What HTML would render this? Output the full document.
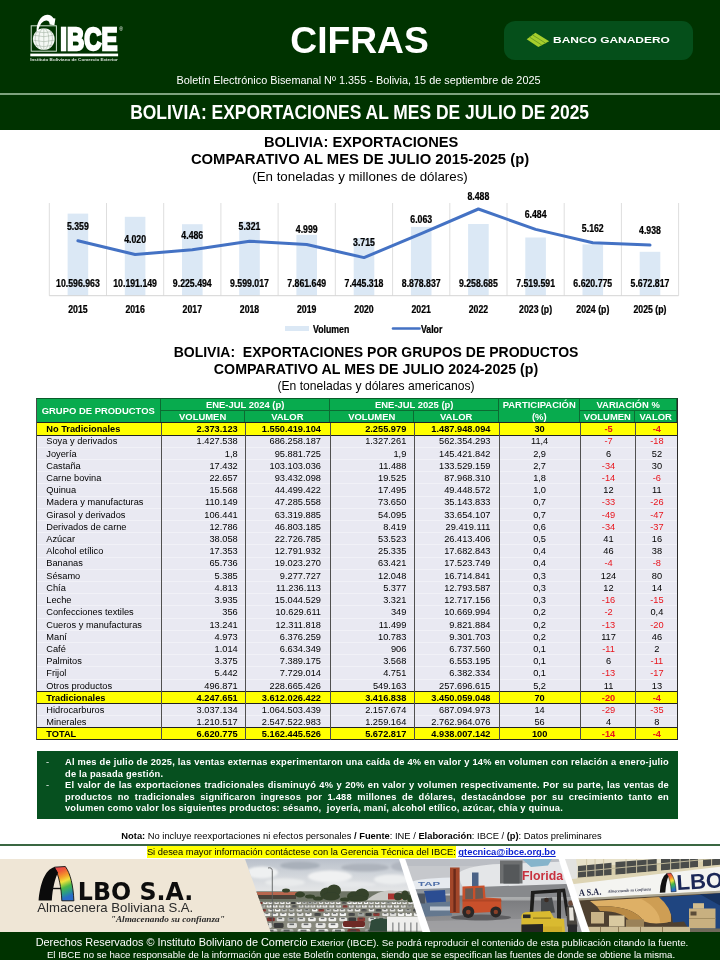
<!DOCTYPE html><html lang="es"><head><meta charset="utf-8"><title>CIFRAS - IBCE</title><style>
*{margin:0;padding:0;box-sizing:border-box}
html,body{width:720px;height:960px;overflow:hidden;background:#fff}
body{position:relative;font-family:"Liberation Sans",sans-serif;color:#000}
.abs{position:absolute}
.ctr{position:absolute;left:0;width:720px;text-align:center;white-space:nowrap}
.ctr>span{display:inline-block;transform-origin:50% 50%}
#hdr{position:absolute;left:0;top:0;width:720px;height:130px;background:#003300}
#hline{position:absolute;left:0;top:93.2px;width:720px;height:2px;background:#7ea37e}
.t1{font-weight:bold;font-size:14.8px;line-height:17px}
.t2{font-size:13.33px;line-height:16px}
#tbl{position:absolute;left:36px;top:397.8px;width:642px;height:342.7px;background:#e9e9f2;border:1px solid #2a2a2a;border-top-color:#0a5c2a;border-left-color:#4a4a4a}
.c{position:absolute;white-space:nowrap;font-size:9.25px;line-height:12.2px;height:12.2px}
.hd{position:absolute;background:#08ab4e;color:#fff;font-weight:bold;font-size:9.45px;text-align:center;white-space:nowrap;border-right:1px solid #0c6b32;border-bottom:1px solid #0c6b32}
.yl{position:absolute;left:0;width:640px;height:12.2px;background:#ffff00;border-top:1px solid #222;border-bottom:1px solid #222}
.vl{position:absolute;top:24px;width:1px;height:317px;background:#505050}
.neg{color:#e8141c}
.b{font-weight:bold}
#box{position:absolute;left:37px;top:750.7px;width:641px;height:68.2px;background:#06501f}
.bl{position:absolute;left:28px;width:604px;color:#fff;font-weight:bold;font-size:9.3px;line-height:11.7px;height:11.7px;white-space:nowrap;text-align:justify;text-align-last:justify;letter-spacing:0.2px}
.bl.last{text-align-last:left}
.dash{position:absolute;left:9px;color:#fff;font-size:9.3px;line-height:11.7px}
#ftr{position:absolute;left:0;top:932px;width:720px;height:28px;background:#003300}
</style></head><body>
<div id="hdr"></div><div id="hline"></div>
<svg class="abs" style="left:24px;top:10px" width="110" height="58" viewBox="24 10 110 58">
<rect x="31.2" y="25.8" width="25.2" height="25.4" fill="none" stroke="#cfe0cf" stroke-width="1"/>
<circle cx="43.8" cy="39.1" r="10.9" fill="#f4f8f4"/>
<g stroke="#2a4a2a" stroke-width="0.5" fill="none" opacity="0.45">
<ellipse cx="43.8" cy="39.1" rx="5" ry="10.9"/><line x1="43.8" y1="28.2" x2="43.8" y2="50"/>
<path d="M33.8 35.2 Q43.8 38.2 53.8 35.2M33.2 40.2 Q43.8 43.2 54.4 40.2M35 45.2 Q43.8 48.2 52.6 45.2M36.4 31.7 Q43.8 33.7 51.2 31.7"/>
<path d="M37.4 30.2 Q32.4 38.7 38.4 48.2M50.2 30.2 Q55.2 38.7 49.2 48.2" />
</g>
<path d="M36.6 31 C36.4 24 40 15.2 47.2 14.7 C50 14.6 52.5 16.2 53.4 18.3 L55.4 18.6 L54.4 25.2 L49.6 24.6 C49.8 22.6 48.8 20.6 46.6 20.5 C42.8 20.4 39.4 24.5 38.2 31.2 Z" fill="#fff"/>
<text x="0" y="0" transform="translate(60.3,50.1) scale(0.775,1)" font-family="Liberation Sans, sans-serif" font-weight="bold" font-size="30.8" fill="#fff" stroke="#fff" stroke-width="2.4" stroke-linejoin="miter">IBCE</text>
<text x="119.3" y="30.5" font-family="Liberation Sans, sans-serif" font-size="5" fill="#fff">®</text>
<rect x="30.3" y="53.6" width="87.8" height="2.7" fill="#fff"/>
<text x="30.3" y="61.3" font-family="Liberation Sans, sans-serif" font-weight="bold" font-size="4.3" fill="#fff" opacity="0.85" textLength="87.5" lengthAdjust="spacingAndGlyphs">Instituto Boliviano de Comercio Exterior</text>
</svg>
<div class="ctr" style="top:20.2px;font-size:36.3px;line-height:42px;font-weight:bold;color:#fff"><span style="position:relative;left:-0.5px;transform:scaleX(1.025)">CIFRAS</span></div>
<div class="abs" style="left:504px;top:21px;width:189px;height:39px;border-radius:11px;background:#054f1a"></div>
<svg class="abs" style="left:524px;top:30px" width="28" height="20" viewBox="524 30 28 20">
<path d="M526.7 39.3 L535.4 32.7 L549.2 41.25 L538.3 47.1 Z" fill="#a6ce2c"/>
<path d="M532.5 34.9 L545.6 43.2 M529.6 37.1 L541.9 45.15" stroke="#6a9a22" stroke-width="0.9" fill="none"/></svg>
<div class="abs" style="left:552.7px;top:32.6px;color:#fff;font-weight:bold;font-size:9.4px;line-height:14px;white-space:nowrap"><span style="display:inline-block;transform:scaleX(1.275);transform-origin:0 50%">BANCO GANADERO</span></div>
<div class="ctr" style="top:74.4px;font-size:10.9px;line-height:13px;color:#fff"><span style="position:relative;left:-1.5px">Boletín Electrónico Bisemanal Nº 1.355 - Bolivia, 15 de septiembre de 2025</span></div>
<div class="ctr" style="top:101.3px;font-size:19.5px;line-height:23px;font-weight:bold;color:#fff"><span style="transform:scaleX(0.894)">BOLIVIA: EXPORTACIONES AL MES DE JULIO DE 2025</span></div>
<div class="ctr t1" style="top:133.7px;font-size:14.67px"><span style="position:relative;left:1.2px">BOLIVIA: EXPORTACIONES</span></div>
<div class="ctr t1" style="top:151.3px"><span>COMPARATIVO AL MES DE JULIO 2015-2025 (p)</span></div>
<div class="ctr t2" style="top:168.9px"><span>(En toneladas y millones de dólares)</span></div>
<svg class="abs" style="left:0;top:185px" width="720" height="160" viewBox="0 185 720 160" font-family="Liberation Sans, sans-serif" font-weight="bold" font-size="10.1" text-anchor="middle">
<line x1="49.3" y1="203.0" x2="49.3" y2="295.7" stroke="#dedede" stroke-width="1"/>
<line x1="106.5" y1="203.0" x2="106.5" y2="295.7" stroke="#dedede" stroke-width="1"/>
<line x1="163.7" y1="203.0" x2="163.7" y2="295.7" stroke="#dedede" stroke-width="1"/>
<line x1="220.9" y1="203.0" x2="220.9" y2="295.7" stroke="#dedede" stroke-width="1"/>
<line x1="278.1" y1="203.0" x2="278.1" y2="295.7" stroke="#dedede" stroke-width="1"/>
<line x1="335.3" y1="203.0" x2="335.3" y2="295.7" stroke="#dedede" stroke-width="1"/>
<line x1="392.6" y1="203.0" x2="392.6" y2="295.7" stroke="#dedede" stroke-width="1"/>
<line x1="449.8" y1="203.0" x2="449.8" y2="295.7" stroke="#dedede" stroke-width="1"/>
<line x1="507.0" y1="203.0" x2="507.0" y2="295.7" stroke="#dedede" stroke-width="1"/>
<line x1="564.2" y1="203.0" x2="564.2" y2="295.7" stroke="#dedede" stroke-width="1"/>
<line x1="621.4" y1="203.0" x2="621.4" y2="295.7" stroke="#dedede" stroke-width="1"/>
<line x1="678.6" y1="203.0" x2="678.6" y2="295.7" stroke="#dedede" stroke-width="1"/>
<rect x="67.6" y="213.6" width="20.6" height="82.1" fill="#dbe8f5"/>
<rect x="124.8" y="216.8" width="20.6" height="78.9" fill="#dbe8f5"/>
<rect x="182.0" y="224.2" width="20.6" height="71.5" fill="#dbe8f5"/>
<rect x="239.2" y="221.4" width="20.6" height="74.3" fill="#dbe8f5"/>
<rect x="296.4" y="234.8" width="20.6" height="60.9" fill="#dbe8f5"/>
<rect x="353.7" y="238.0" width="20.6" height="57.7" fill="#dbe8f5"/>
<rect x="410.9" y="226.9" width="20.6" height="68.8" fill="#dbe8f5"/>
<rect x="468.1" y="224.0" width="20.6" height="71.7" fill="#dbe8f5"/>
<rect x="525.3" y="237.5" width="20.6" height="58.2" fill="#dbe8f5"/>
<rect x="582.5" y="244.4" width="20.6" height="51.3" fill="#dbe8f5"/>
<rect x="639.7" y="251.8" width="20.6" height="43.9" fill="#dbe8f5"/>
<line x1="49.3" y1="295.7" x2="678.6" y2="295.7" stroke="#d4d4d4" stroke-width="1"/>
<polyline points="77.9,240.8 135.1,254.5 192.3,249.7 249.5,241.2 306.7,244.5 364.0,257.6 421.2,233.7 478.4,209.0 535.6,229.4 592.8,242.8 650.0,245.1" fill="none" stroke="#4472c4" stroke-width="3" stroke-linejoin="round" stroke-linecap="round"/>
<text transform="translate(77.9,229.6) scale(0.865,1)" stroke="#000" stroke-width="0.25" >5.359</text>
<text transform="translate(77.9,287.3) scale(0.865,1)" stroke="#000" stroke-width="0.25" >10.596.963</text>
<text transform="translate(77.9,312.7) scale(0.865,1)" stroke="#000" stroke-width="0.25" >2015</text>
<text transform="translate(135.1,243.3) scale(0.865,1)" stroke="#000" stroke-width="0.25" >4.020</text>
<text transform="translate(135.1,287.3) scale(0.865,1)" stroke="#000" stroke-width="0.25" >10.191.149</text>
<text transform="translate(135.1,312.7) scale(0.865,1)" stroke="#000" stroke-width="0.25" >2016</text>
<text transform="translate(192.3,238.5) scale(0.865,1)" stroke="#000" stroke-width="0.25" >4.486</text>
<text transform="translate(192.3,287.3) scale(0.865,1)" stroke="#000" stroke-width="0.25" >9.225.494</text>
<text transform="translate(192.3,312.7) scale(0.865,1)" stroke="#000" stroke-width="0.25" >2017</text>
<text transform="translate(249.5,230.0) scale(0.865,1)" stroke="#000" stroke-width="0.25" >5.321</text>
<text transform="translate(249.5,287.3) scale(0.865,1)" stroke="#000" stroke-width="0.25" >9.599.017</text>
<text transform="translate(249.5,312.7) scale(0.865,1)" stroke="#000" stroke-width="0.25" >2018</text>
<text transform="translate(306.7,233.3) scale(0.865,1)" stroke="#000" stroke-width="0.25" >4.999</text>
<text transform="translate(306.7,287.3) scale(0.865,1)" stroke="#000" stroke-width="0.25" >7.861.649</text>
<text transform="translate(306.7,312.7) scale(0.865,1)" stroke="#000" stroke-width="0.25" >2019</text>
<text transform="translate(364.0,246.4) scale(0.865,1)" stroke="#000" stroke-width="0.25" >3.715</text>
<text transform="translate(364.0,287.3) scale(0.865,1)" stroke="#000" stroke-width="0.25" >7.445.318</text>
<text transform="translate(364.0,312.7) scale(0.865,1)" stroke="#000" stroke-width="0.25" >2020</text>
<text transform="translate(421.2,222.5) scale(0.865,1)" stroke="#000" stroke-width="0.25" >6.063</text>
<text transform="translate(421.2,287.3) scale(0.865,1)" stroke="#000" stroke-width="0.25" >8.878.837</text>
<text transform="translate(421.2,312.7) scale(0.865,1)" stroke="#000" stroke-width="0.25" >2021</text>
<text transform="translate(478.4,199.8) scale(0.865,1)" stroke="#000" stroke-width="0.25" >8.488</text>
<text transform="translate(478.4,287.3) scale(0.865,1)" stroke="#000" stroke-width="0.25" >9.258.685</text>
<text transform="translate(478.4,312.7) scale(0.865,1)" stroke="#000" stroke-width="0.25" >2022</text>
<text transform="translate(535.6,218.2) scale(0.865,1)" stroke="#000" stroke-width="0.25" >6.484</text>
<text transform="translate(535.6,287.3) scale(0.865,1)" stroke="#000" stroke-width="0.25" >7.519.591</text>
<text transform="translate(535.6,312.7) scale(0.865,1)" stroke="#000" stroke-width="0.25" >2023 (p)</text>
<text transform="translate(592.8,231.6) scale(0.865,1)" stroke="#000" stroke-width="0.25" >5.162</text>
<text transform="translate(592.8,287.3) scale(0.865,1)" stroke="#000" stroke-width="0.25" >6.620.775</text>
<text transform="translate(592.8,312.7) scale(0.865,1)" stroke="#000" stroke-width="0.25" >2024 (p)</text>
<text transform="translate(650.0,233.9) scale(0.865,1)" stroke="#000" stroke-width="0.25" >4.938</text>
<text transform="translate(650.0,287.3) scale(0.865,1)" stroke="#000" stroke-width="0.25" >5.672.817</text>
<text transform="translate(650.0,312.7) scale(0.865,1)" stroke="#000" stroke-width="0.25" >2025 (p)</text>
<rect x="285" y="326" width="24" height="5" fill="#dbe8f5"/>
<text transform="translate(313.0,332.5) scale(0.865,1)" stroke="#000" stroke-width="0.25" text-anchor="start">Volumen</text>
<line x1="393" y1="328.5" x2="419.5" y2="328.5" stroke="#4472c4" stroke-width="2.6" stroke-linecap="round"/>
<text transform="translate(421.0,332.5) scale(0.865,1)" stroke="#000" stroke-width="0.25" text-anchor="start">Valor</text>
</svg>
<div class="ctr t1" style="top:343.5px;font-size:14px"><span style="position:relative;left:16px">BOLIVIA:&nbsp; EXPORTACIONES POR GRUPOS DE PRODUCTOS</span></div>
<div class="ctr t1" style="top:360.5px;font-size:14.2px"><span style="position:relative;left:16px">COMPARATIVO AL MES DE JULIO 2024-2025 (p)</span></div>
<div class="ctr t2" style="top:377.5px;font-size:12.1px"><span style="position:relative;left:16px">(En toneladas y dólares americanos)</span></div>
<div id="tbl">
<div class="hd" style="left:-0.5px;top:0.0px;width:124.5px;height:24.1px;line-height:23.3px">GRUPO DE PRODUCTOS</div>
<div class="hd" style="left:124.0px;top:0.0px;width:169.3px;height:11.9px;line-height:11.1px">ENE-JUL 2024 (p)</div>
<div class="hd" style="left:124.0px;top:11.9px;width:84.3px;height:12.2px;line-height:11.4px">VOLUMEN</div>
<div class="hd" style="left:208.3px;top:11.9px;width:85.0px;height:12.2px;line-height:11.4px">VALOR</div>
<div class="hd" style="left:293.3px;top:0.0px;width:168.9px;height:11.9px;line-height:11.1px">ENE-JUL 2025 (p)</div>
<div class="hd" style="left:293.3px;top:11.9px;width:83.9px;height:12.2px;line-height:11.4px">VOLUMEN</div>
<div class="hd" style="left:377.2px;top:11.9px;width:85.0px;height:12.2px;line-height:11.4px">VALOR</div>
<div class="hd" style="left:462.2px;top:0;width:81.1px;height:24.1px;line-height:12.2px;padding-top:0px">PARTICIPACIÓN<br>(%)</div>
<div class="hd" style="left:543.3px;top:0.0px;width:96.7px;height:11.9px;line-height:11.1px">VARIACIÓN %</div>
<div class="hd" style="left:543.3px;top:11.9px;width:55.0px;height:12.2px;line-height:11.4px">VOLUMEN</div>
<div class="hd" style="left:598.3px;top:11.9px;width:41.7px;height:12.2px;line-height:11.4px">VALOR</div>
<div style="position:absolute;left:0;width:640px;height:1px;background:#f1f1f7;top:35.80px"></div>
<div style="position:absolute;left:0;width:640px;height:1px;background:#f1f1f7;top:47.99px"></div>
<div style="position:absolute;left:0;width:640px;height:1px;background:#f1f1f7;top:60.19px"></div>
<div style="position:absolute;left:0;width:640px;height:1px;background:#f1f1f7;top:72.38px"></div>
<div style="position:absolute;left:0;width:640px;height:1px;background:#f1f1f7;top:84.58px"></div>
<div style="position:absolute;left:0;width:640px;height:1px;background:#f1f1f7;top:96.78px"></div>
<div style="position:absolute;left:0;width:640px;height:1px;background:#f1f1f7;top:108.97px"></div>
<div style="position:absolute;left:0;width:640px;height:1px;background:#f1f1f7;top:121.17px"></div>
<div style="position:absolute;left:0;width:640px;height:1px;background:#f1f1f7;top:133.37px"></div>
<div style="position:absolute;left:0;width:640px;height:1px;background:#f1f1f7;top:145.56px"></div>
<div style="position:absolute;left:0;width:640px;height:1px;background:#f1f1f7;top:157.76px"></div>
<div style="position:absolute;left:0;width:640px;height:1px;background:#f1f1f7;top:169.95px"></div>
<div style="position:absolute;left:0;width:640px;height:1px;background:#f1f1f7;top:182.15px"></div>
<div style="position:absolute;left:0;width:640px;height:1px;background:#f1f1f7;top:194.35px"></div>
<div style="position:absolute;left:0;width:640px;height:1px;background:#f1f1f7;top:206.54px"></div>
<div style="position:absolute;left:0;width:640px;height:1px;background:#f1f1f7;top:218.74px"></div>
<div style="position:absolute;left:0;width:640px;height:1px;background:#f1f1f7;top:230.93px"></div>
<div style="position:absolute;left:0;width:640px;height:1px;background:#f1f1f7;top:243.13px"></div>
<div style="position:absolute;left:0;width:640px;height:1px;background:#f1f1f7;top:255.33px"></div>
<div style="position:absolute;left:0;width:640px;height:1px;background:#f1f1f7;top:267.52px"></div>
<div style="position:absolute;left:0;width:640px;height:1px;background:#f1f1f7;top:279.72px"></div>
<div style="position:absolute;left:0;width:640px;height:1px;background:#f1f1f7;top:291.92px"></div>
<div style="position:absolute;left:0;width:640px;height:1px;background:#f1f1f7;top:304.11px"></div>
<div style="position:absolute;left:0;width:640px;height:1px;background:#f1f1f7;top:316.31px"></div>
<div style="position:absolute;left:0;width:640px;height:1px;background:#f1f1f7;top:328.50px"></div>
<div class="yl" style="top:23.60px;height:13.20px"></div>
<div class="yl" style="top:328.50px;height:13.20px"></div>
<div class="yl" style="top:291.92px;height:13.20px"></div>
<div class="vl" style="left:124.0px"></div>
<div class="vl" style="left:208.3px"></div>
<div class="vl" style="left:293.3px"></div>
<div class="vl" style="left:377.2px"></div>
<div class="vl" style="left:462.2px"></div>
<div class="vl" style="left:543.3px"></div>
<div class="vl" style="left:598.3px"></div>
<div class="c b" style="left:9.3px;top:24.30px">No Tradicionales</div>
<div class="c b" style="right:439.3px;top:24.30px">2.373.123</div>
<div class="c b" style="right:356.0px;top:24.30px">1.550.419.104</div>
<div class="c b" style="right:270.7px;top:24.30px">2.255.979</div>
<div class="c b" style="right:186.5px;top:24.30px">1.487.948.094</div>
<div class="c b" style="left:472.6px;width:60px;text-align:center;top:24.30px">30</div>
<div class="c b neg" style="left:541.5px;width:60px;text-align:center;top:24.30px">-5</div>
<div class="c b neg" style="left:589.9px;width:60px;text-align:center;top:24.30px">-4</div>
<div class="c" style="left:9.3px;top:36.52px">Soya y derivados</div>
<div class="c" style="right:439.3px;top:36.52px">1.427.538</div>
<div class="c" style="right:356.0px;top:36.52px">686.258.187</div>
<div class="c" style="right:270.7px;top:36.52px">1.327.261</div>
<div class="c" style="right:186.5px;top:36.52px">562.354.293</div>
<div class="c" style="left:472.6px;width:60px;text-align:center;top:36.52px">11,4</div>
<div class="c neg" style="left:541.5px;width:60px;text-align:center;top:36.52px">-7</div>
<div class="c neg" style="left:589.9px;width:60px;text-align:center;top:36.52px">-18</div>
<div class="c" style="left:9.3px;top:48.73px">Joyería</div>
<div class="c" style="right:439.3px;top:48.73px">1,8</div>
<div class="c" style="right:356.0px;top:48.73px">95.881.725</div>
<div class="c" style="right:270.7px;top:48.73px">1,9</div>
<div class="c" style="right:186.5px;top:48.73px">145.421.842</div>
<div class="c" style="left:472.6px;width:60px;text-align:center;top:48.73px">2,9</div>
<div class="c" style="left:541.5px;width:60px;text-align:center;top:48.73px">6</div>
<div class="c" style="left:589.9px;width:60px;text-align:center;top:48.73px">52</div>
<div class="c" style="left:9.3px;top:60.95px">Castaña</div>
<div class="c" style="right:439.3px;top:60.95px">17.432</div>
<div class="c" style="right:356.0px;top:60.95px">103.103.036</div>
<div class="c" style="right:270.7px;top:60.95px">11.488</div>
<div class="c" style="right:186.5px;top:60.95px">133.529.159</div>
<div class="c" style="left:472.6px;width:60px;text-align:center;top:60.95px">2,7</div>
<div class="c neg" style="left:541.5px;width:60px;text-align:center;top:60.95px">-34</div>
<div class="c" style="left:589.9px;width:60px;text-align:center;top:60.95px">30</div>
<div class="c" style="left:9.3px;top:73.16px">Carne bovina</div>
<div class="c" style="right:439.3px;top:73.16px">22.657</div>
<div class="c" style="right:356.0px;top:73.16px">93.432.098</div>
<div class="c" style="right:270.7px;top:73.16px">19.525</div>
<div class="c" style="right:186.5px;top:73.16px">87.968.310</div>
<div class="c" style="left:472.6px;width:60px;text-align:center;top:73.16px">1,8</div>
<div class="c neg" style="left:541.5px;width:60px;text-align:center;top:73.16px">-14</div>
<div class="c neg" style="left:589.9px;width:60px;text-align:center;top:73.16px">-6</div>
<div class="c" style="left:9.3px;top:85.38px">Quinua</div>
<div class="c" style="right:439.3px;top:85.38px">15.568</div>
<div class="c" style="right:356.0px;top:85.38px">44.499.422</div>
<div class="c" style="right:270.7px;top:85.38px">17.495</div>
<div class="c" style="right:186.5px;top:85.38px">49.448.572</div>
<div class="c" style="left:472.6px;width:60px;text-align:center;top:85.38px">1,0</div>
<div class="c" style="left:541.5px;width:60px;text-align:center;top:85.38px">12</div>
<div class="c" style="left:589.9px;width:60px;text-align:center;top:85.38px">11</div>
<div class="c" style="left:9.3px;top:97.60px">Madera y manufacturas</div>
<div class="c" style="right:439.3px;top:97.60px">110.149</div>
<div class="c" style="right:356.0px;top:97.60px">47.285.558</div>
<div class="c" style="right:270.7px;top:97.60px">73.650</div>
<div class="c" style="right:186.5px;top:97.60px">35.143.833</div>
<div class="c" style="left:472.6px;width:60px;text-align:center;top:97.60px">0,7</div>
<div class="c neg" style="left:541.5px;width:60px;text-align:center;top:97.60px">-33</div>
<div class="c neg" style="left:589.9px;width:60px;text-align:center;top:97.60px">-26</div>
<div class="c" style="left:9.3px;top:109.81px">Girasol y derivados</div>
<div class="c" style="right:439.3px;top:109.81px">106.441</div>
<div class="c" style="right:356.0px;top:109.81px">63.319.885</div>
<div class="c" style="right:270.7px;top:109.81px">54.095</div>
<div class="c" style="right:186.5px;top:109.81px">33.654.107</div>
<div class="c" style="left:472.6px;width:60px;text-align:center;top:109.81px">0,7</div>
<div class="c neg" style="left:541.5px;width:60px;text-align:center;top:109.81px">-49</div>
<div class="c neg" style="left:589.9px;width:60px;text-align:center;top:109.81px">-47</div>
<div class="c" style="left:9.3px;top:122.03px">Derivados de carne</div>
<div class="c" style="right:439.3px;top:122.03px">12.786</div>
<div class="c" style="right:356.0px;top:122.03px">46.803.185</div>
<div class="c" style="right:270.7px;top:122.03px">8.419</div>
<div class="c" style="right:186.5px;top:122.03px">29.419.111</div>
<div class="c" style="left:472.6px;width:60px;text-align:center;top:122.03px">0,6</div>
<div class="c neg" style="left:541.5px;width:60px;text-align:center;top:122.03px">-34</div>
<div class="c neg" style="left:589.9px;width:60px;text-align:center;top:122.03px">-37</div>
<div class="c" style="left:9.3px;top:134.24px">Azúcar</div>
<div class="c" style="right:439.3px;top:134.24px">38.058</div>
<div class="c" style="right:356.0px;top:134.24px">22.726.785</div>
<div class="c" style="right:270.7px;top:134.24px">53.523</div>
<div class="c" style="right:186.5px;top:134.24px">26.413.406</div>
<div class="c" style="left:472.6px;width:60px;text-align:center;top:134.24px">0,5</div>
<div class="c" style="left:541.5px;width:60px;text-align:center;top:134.24px">41</div>
<div class="c" style="left:589.9px;width:60px;text-align:center;top:134.24px">16</div>
<div class="c" style="left:9.3px;top:146.46px">Alcohol etílico</div>
<div class="c" style="right:439.3px;top:146.46px">17.353</div>
<div class="c" style="right:356.0px;top:146.46px">12.791.932</div>
<div class="c" style="right:270.7px;top:146.46px">25.335</div>
<div class="c" style="right:186.5px;top:146.46px">17.682.843</div>
<div class="c" style="left:472.6px;width:60px;text-align:center;top:146.46px">0,4</div>
<div class="c" style="left:541.5px;width:60px;text-align:center;top:146.46px">46</div>
<div class="c" style="left:589.9px;width:60px;text-align:center;top:146.46px">38</div>
<div class="c" style="left:9.3px;top:158.68px">Bananas</div>
<div class="c" style="right:439.3px;top:158.68px">65.736</div>
<div class="c" style="right:356.0px;top:158.68px">19.023.270</div>
<div class="c" style="right:270.7px;top:158.68px">63.421</div>
<div class="c" style="right:186.5px;top:158.68px">17.523.749</div>
<div class="c" style="left:472.6px;width:60px;text-align:center;top:158.68px">0,4</div>
<div class="c neg" style="left:541.5px;width:60px;text-align:center;top:158.68px">-4</div>
<div class="c neg" style="left:589.9px;width:60px;text-align:center;top:158.68px">-8</div>
<div class="c" style="left:9.3px;top:170.89px">Sésamo</div>
<div class="c" style="right:439.3px;top:170.89px">5.385</div>
<div class="c" style="right:356.0px;top:170.89px">9.277.727</div>
<div class="c" style="right:270.7px;top:170.89px">12.048</div>
<div class="c" style="right:186.5px;top:170.89px">16.714.841</div>
<div class="c" style="left:472.6px;width:60px;text-align:center;top:170.89px">0,3</div>
<div class="c" style="left:541.5px;width:60px;text-align:center;top:170.89px">124</div>
<div class="c" style="left:589.9px;width:60px;text-align:center;top:170.89px">80</div>
<div class="c" style="left:9.3px;top:183.11px">Chía</div>
<div class="c" style="right:439.3px;top:183.11px">4.813</div>
<div class="c" style="right:356.0px;top:183.11px">11.236.113</div>
<div class="c" style="right:270.7px;top:183.11px">5.377</div>
<div class="c" style="right:186.5px;top:183.11px">12.793.587</div>
<div class="c" style="left:472.6px;width:60px;text-align:center;top:183.11px">0,3</div>
<div class="c" style="left:541.5px;width:60px;text-align:center;top:183.11px">12</div>
<div class="c" style="left:589.9px;width:60px;text-align:center;top:183.11px">14</div>
<div class="c" style="left:9.3px;top:195.32px">Leche</div>
<div class="c" style="right:439.3px;top:195.32px">3.935</div>
<div class="c" style="right:356.0px;top:195.32px">15.044.529</div>
<div class="c" style="right:270.7px;top:195.32px">3.321</div>
<div class="c" style="right:186.5px;top:195.32px">12.717.156</div>
<div class="c" style="left:472.6px;width:60px;text-align:center;top:195.32px">0,3</div>
<div class="c neg" style="left:541.5px;width:60px;text-align:center;top:195.32px">-16</div>
<div class="c neg" style="left:589.9px;width:60px;text-align:center;top:195.32px">-15</div>
<div class="c" style="left:9.3px;top:207.54px">Confecciones textiles</div>
<div class="c" style="right:439.3px;top:207.54px">356</div>
<div class="c" style="right:356.0px;top:207.54px">10.629.611</div>
<div class="c" style="right:270.7px;top:207.54px">349</div>
<div class="c" style="right:186.5px;top:207.54px">10.669.994</div>
<div class="c" style="left:472.6px;width:60px;text-align:center;top:207.54px">0,2</div>
<div class="c neg" style="left:541.5px;width:60px;text-align:center;top:207.54px">-2</div>
<div class="c" style="left:589.9px;width:60px;text-align:center;top:207.54px">0,4</div>
<div class="c" style="left:9.3px;top:219.76px">Cueros y manufacturas</div>
<div class="c" style="right:439.3px;top:219.76px">13.241</div>
<div class="c" style="right:356.0px;top:219.76px">12.311.818</div>
<div class="c" style="right:270.7px;top:219.76px">11.499</div>
<div class="c" style="right:186.5px;top:219.76px">9.821.884</div>
<div class="c" style="left:472.6px;width:60px;text-align:center;top:219.76px">0,2</div>
<div class="c neg" style="left:541.5px;width:60px;text-align:center;top:219.76px">-13</div>
<div class="c neg" style="left:589.9px;width:60px;text-align:center;top:219.76px">-20</div>
<div class="c" style="left:9.3px;top:231.97px">Maní</div>
<div class="c" style="right:439.3px;top:231.97px">4.973</div>
<div class="c" style="right:356.0px;top:231.97px">6.376.259</div>
<div class="c" style="right:270.7px;top:231.97px">10.783</div>
<div class="c" style="right:186.5px;top:231.97px">9.301.703</div>
<div class="c" style="left:472.6px;width:60px;text-align:center;top:231.97px">0,2</div>
<div class="c" style="left:541.5px;width:60px;text-align:center;top:231.97px">117</div>
<div class="c" style="left:589.9px;width:60px;text-align:center;top:231.97px">46</div>
<div class="c" style="left:9.3px;top:244.19px">Café</div>
<div class="c" style="right:439.3px;top:244.19px">1.014</div>
<div class="c" style="right:356.0px;top:244.19px">6.634.349</div>
<div class="c" style="right:270.7px;top:244.19px">906</div>
<div class="c" style="right:186.5px;top:244.19px">6.737.560</div>
<div class="c" style="left:472.6px;width:60px;text-align:center;top:244.19px">0,1</div>
<div class="c neg" style="left:541.5px;width:60px;text-align:center;top:244.19px">-11</div>
<div class="c" style="left:589.9px;width:60px;text-align:center;top:244.19px">2</div>
<div class="c" style="left:9.3px;top:256.40px">Palmitos</div>
<div class="c" style="right:439.3px;top:256.40px">3.375</div>
<div class="c" style="right:356.0px;top:256.40px">7.389.175</div>
<div class="c" style="right:270.7px;top:256.40px">3.568</div>
<div class="c" style="right:186.5px;top:256.40px">6.553.195</div>
<div class="c" style="left:472.6px;width:60px;text-align:center;top:256.40px">0,1</div>
<div class="c" style="left:541.5px;width:60px;text-align:center;top:256.40px">6</div>
<div class="c neg" style="left:589.9px;width:60px;text-align:center;top:256.40px">-11</div>
<div class="c" style="left:9.3px;top:268.62px">Frijol</div>
<div class="c" style="right:439.3px;top:268.62px">5.442</div>
<div class="c" style="right:356.0px;top:268.62px">7.729.014</div>
<div class="c" style="right:270.7px;top:268.62px">4.751</div>
<div class="c" style="right:186.5px;top:268.62px">6.382.334</div>
<div class="c" style="left:472.6px;width:60px;text-align:center;top:268.62px">0,1</div>
<div class="c neg" style="left:541.5px;width:60px;text-align:center;top:268.62px">-13</div>
<div class="c neg" style="left:589.9px;width:60px;text-align:center;top:268.62px">-17</div>
<div class="c" style="left:9.3px;top:280.84px">Otros productos</div>
<div class="c" style="right:439.3px;top:280.84px">496.871</div>
<div class="c" style="right:356.0px;top:280.84px">228.665.426</div>
<div class="c" style="right:270.7px;top:280.84px">549.163</div>
<div class="c" style="right:186.5px;top:280.84px">257.696.615</div>
<div class="c" style="left:472.6px;width:60px;text-align:center;top:280.84px">5,2</div>
<div class="c" style="left:541.5px;width:60px;text-align:center;top:280.84px">11</div>
<div class="c" style="left:589.9px;width:60px;text-align:center;top:280.84px">13</div>
<div class="c b" style="left:9.3px;top:293.05px">Tradicionales</div>
<div class="c b" style="right:439.3px;top:293.05px">4.247.651</div>
<div class="c b" style="right:356.0px;top:293.05px">3.612.026.422</div>
<div class="c b" style="right:270.7px;top:293.05px">3.416.838</div>
<div class="c b" style="right:186.5px;top:293.05px">3.450.059.048</div>
<div class="c b" style="left:472.6px;width:60px;text-align:center;top:293.05px">70</div>
<div class="c b neg" style="left:541.5px;width:60px;text-align:center;top:293.05px">-20</div>
<div class="c b neg" style="left:589.9px;width:60px;text-align:center;top:293.05px">-4</div>
<div class="c" style="left:9.3px;top:305.27px">Hidrocarburos</div>
<div class="c" style="right:439.3px;top:305.27px">3.037.134</div>
<div class="c" style="right:356.0px;top:305.27px">1.064.503.439</div>
<div class="c" style="right:270.7px;top:305.27px">2.157.674</div>
<div class="c" style="right:186.5px;top:305.27px">687.094.973</div>
<div class="c" style="left:472.6px;width:60px;text-align:center;top:305.27px">14</div>
<div class="c neg" style="left:541.5px;width:60px;text-align:center;top:305.27px">-29</div>
<div class="c neg" style="left:589.9px;width:60px;text-align:center;top:305.27px">-35</div>
<div class="c" style="left:9.3px;top:317.48px">Minerales</div>
<div class="c" style="right:439.3px;top:317.48px">1.210.517</div>
<div class="c" style="right:356.0px;top:317.48px">2.547.522.983</div>
<div class="c" style="right:270.7px;top:317.48px">1.259.164</div>
<div class="c" style="right:186.5px;top:317.48px">2.762.964.076</div>
<div class="c" style="left:472.6px;width:60px;text-align:center;top:317.48px">56</div>
<div class="c" style="left:541.5px;width:60px;text-align:center;top:317.48px">4</div>
<div class="c" style="left:589.9px;width:60px;text-align:center;top:317.48px">8</div>
<div class="c b" style="left:9.3px;top:329.70px">TOTAL</div>
<div class="c b" style="right:439.3px;top:329.70px">6.620.775</div>
<div class="c b" style="right:356.0px;top:329.70px">5.162.445.526</div>
<div class="c b" style="right:270.7px;top:329.70px">5.672.817</div>
<div class="c b" style="right:186.5px;top:329.70px">4.938.007.142</div>
<div class="c b" style="left:472.6px;width:60px;text-align:center;top:329.70px">100</div>
<div class="c b neg" style="left:541.5px;width:60px;text-align:center;top:329.70px">-14</div>
<div class="c b neg" style="left:589.9px;width:60px;text-align:center;top:329.70px">-4</div>
</div>
<div id="box">
<div class="bl" style="top:6.2px">Al mes de julio de 2025, las ventas externas experimentaron una caída de 4% en valor y 14% en volumen con relación a enero-julio</div>
<div class="bl last" style="top:17.9px">de la pasada gestión.</div>
<div class="bl" style="top:29.5px">El valor de las exportaciones tradicionales disminuyó 4% y 20% en valor y volumen respectivamente. Por su parte, las ventas de</div>
<div class="bl" style="top:41.2px">productos no tradicionales significaron ingresos por 1.488 millones de dólares, destacándose por su crecimiento tanto en</div>
<div class="bl last" style="top:52.8px">volumen como valor los siguientes productos: sésamo,&nbsp; joyería, maní, alcohol etílico, azúcar, chía y quinua.</div>
<div class="dash" style="top:6.2px">-</div>
<div class="dash" style="top:29.5px">-</div>
</div>
<div class="ctr" style="top:829.7px;font-size:9.35px;line-height:12px"><span style="position:relative;left:1.5px"><b>Nota:</b> No incluye reexportaciones ni efectos personales <b>/ Fuente</b>: INE / <b>Elaboración</b>: IBCE / <b>(p)</b>: Datos preliminares</span></div>
<div class="abs" style="left:0;top:844px;width:720px;height:1.6px;background:#3a6742"></div>
<div class="ctr" style="top:846.3px;font-size:9.35px;line-height:12px"><span style="position:relative;left:-8.7px"><span style="background:#ffff00;display:inline-block;height:12px;padding:0">Si desea mayor información contáctese con la Gerencia Técnica del IBCE:</span> <b style="color:#0a1fd0;text-decoration:underline">gtecnica@ibce.org.bo</b></span></div>
<svg class="abs" style="left:0;top:858.5px" width="720" height="73.5" viewBox="0 858.5 720 73.5">
<defs>
<clipPath id="p1"><polygon points="245,858.5 402,858.5 426.5,932 271,932"/></clipPath>
<clipPath id="p2"><polygon points="402,858.5 562,858.5 586,932 426.5,932"/></clipPath>
<clipPath id="p3"><polygon points="562,858.5 720,858.5 720,932 586,932"/></clipPath>
<linearGradient id="sky1" x1="0" y1="0" x2="0" y2="1"><stop offset="0" stop-color="#b9c0ca"/><stop offset="0.5" stop-color="#d3d7dc"/><stop offset="1" stop-color="#e6e7e8"/></linearGradient>
<linearGradient id="rb" x1="0" y1="0" x2="0.25" y2="1"><stop offset="0" stop-color="#e2405e"/><stop offset="0.2" stop-color="#ee5a38"/><stop offset="0.38" stop-color="#f5a02a"/><stop offset="0.52" stop-color="#f0e23c"/><stop offset="0.7" stop-color="#4cb848"/><stop offset="0.86" stop-color="#2a9a8a"/><stop offset="1" stop-color="#2a6cc8"/></linearGradient>
<linearGradient id="tar" x1="0" y1="0" x2="0" y2="1"><stop offset="0" stop-color="#77787b"/><stop offset="1" stop-color="#9a9a9c"/></linearGradient>
<filter id="bl1" x="-20%" y="-20%" width="140%" height="140%"><feGaussianBlur stdDeviation="1.2"/></filter>
<filter id="bl2" x="-20%" y="-20%" width="140%" height="140%"><feGaussianBlur stdDeviation="0.6"/></filter>
</defs>
<rect x="0" y="858.5" width="720" height="73.5" fill="#efe6d6"/>
<g clip-path="url(#p1)">
<rect x="240" y="858.5" width="190" height="34" fill="url(#sky1)"/>
<g filter="url(#bl1)">
<ellipse cx="262" cy="872" rx="16" ry="6" fill="#eef0f1"/>
<ellipse cx="300" cy="865" rx="20" ry="4" fill="#a9b0ba"/>
<ellipse cx="330" cy="876" rx="22" ry="6" fill="#f0f1f2"/>
<ellipse cx="365" cy="867" rx="24" ry="4" fill="#adb3bc"/>
<ellipse cx="392" cy="879" rx="18" ry="5" fill="#eceeef"/>
<ellipse cx="285" cy="882" rx="20" ry="4" fill="#e9ebec"/>
<ellipse cx="350" cy="884" rx="26" ry="3" fill="#e6e8ea"/>
<ellipse cx="405" cy="866" rx="14" ry="5" fill="#b0b6bf"/>
</g>
<rect x="240" y="891" width="190" height="41" fill="#87887c"/>
<rect x="240" y="891" width="190" height="10" fill="#6f7566"/>
<path d="M366 900 Q385 884 404 893 L410 900 Z" fill="#c9c9c4"/>
<rect x="388" y="893" width="14" height="6" fill="#a8342f"/>
<rect x="256" y="891.5" width="42" height="3" fill="#b8664e"/><rect x="258" y="894.5" width="38" height="4" fill="#4a4238"/>
<g filter="url(#bl2)" fill="#34422a">
<ellipse cx="327" cy="893" rx="7" ry="6"/>
<ellipse cx="334" cy="890" rx="7" ry="6"/>
<ellipse cx="331" cy="896" rx="9" ry="4"/>
<ellipse cx="354" cy="896" rx="7" ry="5"/>
<ellipse cx="362" cy="894" rx="7" ry="6"/>
<ellipse cx="358" cy="898" rx="10" ry="3"/>
<ellipse cx="300" cy="894" rx="5" ry="3"/>
<ellipse cx="310" cy="896" rx="5" ry="2"/>
<ellipse cx="398" cy="896" rx="4" ry="4"/>
<ellipse cx="405" cy="895" rx="4" ry="5"/>
<ellipse cx="411" cy="898" rx="4" ry="4"/>
<ellipse cx="286" cy="890" rx="4" ry="2"/>
<ellipse cx="345" cy="899" rx="5" ry="2"/>
<ellipse cx="318" cy="898" rx="5" ry="2"/>
</g>
<g filter="url(#bl2)">
<rect x="247.3" y="901.5" width="4.3" height="2.0" rx="0.6" fill="#f1f1ef"/>
<rect x="248.3" y="901.7" width="2.0" height="0.7" fill="#3b3f42" opacity="0.75"/>
<rect x="252.4" y="901.5" width="4.3" height="2.0" rx="0.6" fill="#f6f6f4"/>
<rect x="253.4" y="901.7" width="2.0" height="0.7" fill="#3b3f42" opacity="0.75"/>
<rect x="258.1" y="901.5" width="4.3" height="2.0" rx="0.6" fill="#7d2f2c"/>
<rect x="259.1" y="901.7" width="2.0" height="0.7" fill="#3b3f42" opacity="0.75"/>
<rect x="263.2" y="901.5" width="4.3" height="2.0" rx="0.6" fill="#f1f1ef"/>
<rect x="264.2" y="901.7" width="2.0" height="0.7" fill="#3b3f42" opacity="0.75"/>
<rect x="268.5" y="901.5" width="4.3" height="2.0" rx="0.6" fill="#f1f1ef"/>
<rect x="269.5" y="901.7" width="2.0" height="0.7" fill="#3b3f42" opacity="0.75"/>
<rect x="274.5" y="901.5" width="4.3" height="2.0" rx="0.6" fill="#e6e6e3"/>
<rect x="275.5" y="901.7" width="2.0" height="0.7" fill="#3b3f42" opacity="0.75"/>
<rect x="280.3" y="901.5" width="4.3" height="2.0" rx="0.6" fill="#f1f1ef"/>
<rect x="281.3" y="901.7" width="2.0" height="0.7" fill="#3b3f42" opacity="0.75"/>
<rect x="286.0" y="901.5" width="4.3" height="2.0" rx="0.6" fill="#e6e6e3"/>
<rect x="287.0" y="901.7" width="2.0" height="0.7" fill="#3b3f42" opacity="0.75"/>
<rect x="291.1" y="901.5" width="4.3" height="2.0" rx="0.6" fill="#3a3b3a"/>
<rect x="292.1" y="901.7" width="2.0" height="0.7" fill="#3b3f42" opacity="0.75"/>
<rect x="296.6" y="901.5" width="4.3" height="2.0" rx="0.6" fill="#f6f6f4"/>
<rect x="297.6" y="901.7" width="2.0" height="0.7" fill="#3b3f42" opacity="0.75"/>
<rect x="302.3" y="901.5" width="4.3" height="2.0" rx="0.6" fill="#b9bab6"/>
<rect x="303.3" y="901.7" width="2.0" height="0.7" fill="#3b3f42" opacity="0.75"/>
<rect x="308.0" y="901.5" width="4.3" height="2.0" rx="0.6" fill="#a3a5a2"/>
<rect x="309.0" y="901.7" width="2.0" height="0.7" fill="#3b3f42" opacity="0.75"/>
<rect x="313.1" y="901.5" width="4.3" height="2.0" rx="0.6" fill="#b9bab6"/>
<rect x="314.1" y="901.7" width="2.0" height="0.7" fill="#3b3f42" opacity="0.75"/>
<rect x="318.9" y="901.5" width="4.3" height="2.0" rx="0.6" fill="#dededb"/>
<rect x="319.9" y="901.7" width="2.0" height="0.7" fill="#3b3f42" opacity="0.75"/>
<rect x="324.9" y="901.5" width="4.3" height="2.0" rx="0.6" fill="#dededb"/>
<rect x="325.9" y="901.7" width="2.0" height="0.7" fill="#3b3f42" opacity="0.75"/>
<rect x="330.3" y="901.5" width="4.3" height="2.0" rx="0.6" fill="#e6e6e3"/>
<rect x="331.3" y="901.7" width="2.0" height="0.7" fill="#3b3f42" opacity="0.75"/>
<rect x="336.2" y="901.5" width="4.3" height="2.0" rx="0.6" fill="#f6f6f4"/>
<rect x="337.2" y="901.7" width="2.0" height="0.7" fill="#3b3f42" opacity="0.75"/>
<rect x="341.9" y="901.5" width="4.3" height="2.0" rx="0.6" fill="#5e5f5c"/>
<rect x="342.9" y="901.7" width="2.0" height="0.7" fill="#3b3f42" opacity="0.75"/>
<rect x="347.4" y="901.5" width="4.3" height="2.0" rx="0.6" fill="#f1f1ef"/>
<rect x="348.4" y="901.7" width="2.0" height="0.7" fill="#3b3f42" opacity="0.75"/>
<rect x="352.6" y="901.5" width="4.3" height="2.0" rx="0.6" fill="#f6f6f4"/>
<rect x="353.6" y="901.7" width="2.0" height="0.7" fill="#3b3f42" opacity="0.75"/>
<rect x="357.8" y="901.5" width="4.3" height="2.0" rx="0.6" fill="#f1f1ef"/>
<rect x="358.8" y="901.7" width="2.0" height="0.7" fill="#3b3f42" opacity="0.75"/>
<rect x="364.0" y="901.5" width="4.3" height="2.0" rx="0.6" fill="#f6f6f4"/>
<rect x="365.0" y="901.7" width="2.0" height="0.7" fill="#3b3f42" opacity="0.75"/>
<rect x="369.4" y="901.5" width="4.3" height="2.0" rx="0.6" fill="#dededb"/>
<rect x="370.4" y="901.7" width="2.0" height="0.7" fill="#3b3f42" opacity="0.75"/>
<rect x="375.1" y="901.5" width="4.3" height="2.0" rx="0.6" fill="#f1f1ef"/>
<rect x="376.1" y="901.7" width="2.0" height="0.7" fill="#3b3f42" opacity="0.75"/>
<rect x="381.3" y="901.5" width="4.3" height="2.0" rx="0.6" fill="#f1f1ef"/>
<rect x="382.3" y="901.7" width="2.0" height="0.7" fill="#3b3f42" opacity="0.75"/>
<rect x="386.4" y="901.5" width="4.3" height="2.0" rx="0.6" fill="#a3a5a2"/>
<rect x="387.4" y="901.7" width="2.0" height="0.7" fill="#3b3f42" opacity="0.75"/>
<rect x="391.7" y="901.5" width="4.3" height="2.0" rx="0.6" fill="#f6f6f4"/>
<rect x="392.7" y="901.7" width="2.0" height="0.7" fill="#3b3f42" opacity="0.75"/>
<rect x="396.8" y="901.5" width="4.3" height="2.0" rx="0.6" fill="#e6e6e3"/>
<rect x="397.8" y="901.7" width="2.0" height="0.7" fill="#3b3f42" opacity="0.75"/>
<rect x="402.5" y="901.5" width="4.3" height="2.0" rx="0.6" fill="#e6e6e3"/>
<rect x="403.5" y="901.7" width="2.0" height="0.7" fill="#3b3f42" opacity="0.75"/>
<rect x="408.5" y="901.5" width="4.3" height="2.0" rx="0.6" fill="#e6e6e3"/>
<rect x="409.5" y="901.7" width="2.0" height="0.7" fill="#3b3f42" opacity="0.75"/>
<rect x="414.0" y="901.5" width="4.3" height="2.0" rx="0.6" fill="#8c3a35"/>
<rect x="415.0" y="901.7" width="2.0" height="0.7" fill="#3b3f42" opacity="0.75"/>
<rect x="419.1" y="901.5" width="4.3" height="2.0" rx="0.6" fill="#f6f6f4"/>
<rect x="420.1" y="901.7" width="2.0" height="0.7" fill="#3b3f42" opacity="0.75"/>
<rect x="425.2" y="901.5" width="4.3" height="2.0" rx="0.6" fill="#5e5f5c"/>
<rect x="426.2" y="901.7" width="2.0" height="0.7" fill="#3b3f42" opacity="0.75"/>
<rect x="247.7" y="904.8" width="4.8" height="2.3" rx="0.7" fill="#dededb"/>
<rect x="248.8" y="905.0" width="2.2" height="0.8" fill="#3b3f42" opacity="0.75"/>
<rect x="254.6" y="904.8" width="4.8" height="2.3" rx="0.7" fill="#e6e6e3"/>
<rect x="255.7" y="905.0" width="2.2" height="0.8" fill="#3b3f42" opacity="0.75"/>
<rect x="260.4" y="904.8" width="4.8" height="2.3" rx="0.7" fill="#b9bab6"/>
<rect x="261.5" y="905.0" width="2.2" height="0.8" fill="#3b3f42" opacity="0.75"/>
<rect x="266.7" y="904.8" width="4.8" height="2.3" rx="0.7" fill="#f6f6f4"/>
<rect x="267.8" y="905.0" width="2.2" height="0.8" fill="#3b3f42" opacity="0.75"/>
<rect x="272.7" y="904.8" width="4.8" height="2.3" rx="0.7" fill="#f6f6f4"/>
<rect x="273.8" y="905.0" width="2.2" height="0.8" fill="#3b3f42" opacity="0.75"/>
<rect x="279.1" y="904.8" width="4.8" height="2.3" rx="0.7" fill="#e6e6e3"/>
<rect x="280.3" y="905.0" width="2.2" height="0.8" fill="#3b3f42" opacity="0.75"/>
<rect x="285.7" y="904.8" width="4.8" height="2.3" rx="0.7" fill="#f1f1ef"/>
<rect x="286.8" y="905.0" width="2.2" height="0.8" fill="#3b3f42" opacity="0.75"/>
<rect x="291.9" y="904.8" width="4.8" height="2.3" rx="0.7" fill="#5e5f5c"/>
<rect x="293.1" y="905.0" width="2.2" height="0.8" fill="#3b3f42" opacity="0.75"/>
<rect x="298.7" y="904.8" width="4.8" height="2.3" rx="0.7" fill="#dededb"/>
<rect x="299.8" y="905.0" width="2.2" height="0.8" fill="#3b3f42" opacity="0.75"/>
<rect x="304.8" y="904.8" width="4.8" height="2.3" rx="0.7" fill="#dededb"/>
<rect x="305.9" y="905.0" width="2.2" height="0.8" fill="#3b3f42" opacity="0.75"/>
<rect x="310.5" y="904.8" width="4.8" height="2.3" rx="0.7" fill="#e6e6e3"/>
<rect x="311.6" y="905.0" width="2.2" height="0.8" fill="#3b3f42" opacity="0.75"/>
<rect x="316.7" y="904.8" width="4.8" height="2.3" rx="0.7" fill="#f1f1ef"/>
<rect x="317.8" y="905.0" width="2.2" height="0.8" fill="#3b3f42" opacity="0.75"/>
<rect x="322.5" y="904.8" width="4.8" height="2.3" rx="0.7" fill="#f1f1ef"/>
<rect x="323.6" y="905.0" width="2.2" height="0.8" fill="#3b3f42" opacity="0.75"/>
<rect x="329.4" y="904.8" width="4.8" height="2.3" rx="0.7" fill="#f1f1ef"/>
<rect x="330.5" y="905.0" width="2.2" height="0.8" fill="#3b3f42" opacity="0.75"/>
<rect x="336.2" y="904.8" width="4.8" height="2.3" rx="0.7" fill="#e6e6e3"/>
<rect x="337.3" y="905.0" width="2.2" height="0.8" fill="#3b3f42" opacity="0.75"/>
<rect x="342.7" y="904.8" width="4.8" height="2.3" rx="0.7" fill="#8c3a35"/>
<rect x="343.8" y="905.0" width="2.2" height="0.8" fill="#3b3f42" opacity="0.75"/>
<rect x="349.0" y="904.8" width="4.8" height="2.3" rx="0.7" fill="#dededb"/>
<rect x="350.1" y="905.0" width="2.2" height="0.8" fill="#3b3f42" opacity="0.75"/>
<rect x="356.0" y="904.8" width="4.8" height="2.3" rx="0.7" fill="#dededb"/>
<rect x="357.1" y="905.0" width="2.2" height="0.8" fill="#3b3f42" opacity="0.75"/>
<rect x="362.0" y="904.8" width="4.8" height="2.3" rx="0.7" fill="#f6f6f4"/>
<rect x="363.1" y="905.0" width="2.2" height="0.8" fill="#3b3f42" opacity="0.75"/>
<rect x="368.6" y="904.8" width="4.8" height="2.3" rx="0.7" fill="#e6e6e3"/>
<rect x="369.8" y="905.0" width="2.2" height="0.8" fill="#3b3f42" opacity="0.75"/>
<rect x="375.0" y="904.8" width="4.8" height="2.3" rx="0.7" fill="#f6f6f4"/>
<rect x="376.1" y="905.0" width="2.2" height="0.8" fill="#3b3f42" opacity="0.75"/>
<rect x="380.8" y="904.8" width="4.8" height="2.3" rx="0.7" fill="#f1f1ef"/>
<rect x="381.9" y="905.0" width="2.2" height="0.8" fill="#3b3f42" opacity="0.75"/>
<rect x="387.4" y="904.8" width="4.8" height="2.3" rx="0.7" fill="#f1f1ef"/>
<rect x="388.5" y="905.0" width="2.2" height="0.8" fill="#3b3f42" opacity="0.75"/>
<rect x="394.0" y="904.8" width="4.8" height="2.3" rx="0.7" fill="#f6f6f4"/>
<rect x="395.1" y="905.0" width="2.2" height="0.8" fill="#3b3f42" opacity="0.75"/>
<rect x="400.9" y="904.8" width="4.8" height="2.3" rx="0.7" fill="#e6e6e3"/>
<rect x="402.0" y="905.0" width="2.2" height="0.8" fill="#3b3f42" opacity="0.75"/>
<rect x="407.2" y="904.8" width="4.8" height="2.3" rx="0.7" fill="#a3a5a2"/>
<rect x="408.3" y="905.0" width="2.2" height="0.8" fill="#3b3f42" opacity="0.75"/>
<rect x="413.7" y="904.8" width="4.8" height="2.3" rx="0.7" fill="#e6e6e3"/>
<rect x="414.8" y="905.0" width="2.2" height="0.8" fill="#3b3f42" opacity="0.75"/>
<rect x="420.4" y="904.8" width="4.8" height="2.3" rx="0.7" fill="#5e5f5c"/>
<rect x="421.6" y="905.0" width="2.2" height="0.8" fill="#3b3f42" opacity="0.75"/>
<rect x="427.2" y="904.8" width="4.8" height="2.3" rx="0.7" fill="#dededb"/>
<rect x="428.3" y="905.0" width="2.2" height="0.8" fill="#3b3f42" opacity="0.75"/>
<rect x="246.1" y="908.4" width="5.5" height="2.7" rx="0.8" fill="#f6f6f4"/>
<rect x="247.4" y="908.6" width="2.6" height="0.9" fill="#3b3f42" opacity="0.75"/>
<rect x="253.3" y="908.4" width="5.5" height="2.7" rx="0.8" fill="#f6f6f4"/>
<rect x="254.6" y="908.6" width="2.6" height="0.9" fill="#3b3f42" opacity="0.75"/>
<rect x="260.4" y="908.4" width="5.5" height="2.7" rx="0.8" fill="#8c3a35"/>
<rect x="261.7" y="908.6" width="2.6" height="0.9" fill="#3b3f42" opacity="0.75"/>
<rect x="268.3" y="908.4" width="5.5" height="2.7" rx="0.8" fill="#e6e6e3"/>
<rect x="269.6" y="908.6" width="2.6" height="0.9" fill="#3b3f42" opacity="0.75"/>
<rect x="274.9" y="908.4" width="5.5" height="2.7" rx="0.8" fill="#f6f6f4"/>
<rect x="276.2" y="908.6" width="2.6" height="0.9" fill="#3b3f42" opacity="0.75"/>
<rect x="281.6" y="908.4" width="5.5" height="2.7" rx="0.8" fill="#b9bab6"/>
<rect x="282.9" y="908.6" width="2.6" height="0.9" fill="#3b3f42" opacity="0.75"/>
<rect x="288.8" y="908.4" width="5.5" height="2.7" rx="0.8" fill="#b9bab6"/>
<rect x="290.1" y="908.6" width="2.6" height="0.9" fill="#3b3f42" opacity="0.75"/>
<rect x="296.5" y="908.4" width="5.5" height="2.7" rx="0.8" fill="#dededb"/>
<rect x="297.8" y="908.6" width="2.6" height="0.9" fill="#3b3f42" opacity="0.75"/>
<rect x="304.2" y="908.4" width="5.5" height="2.7" rx="0.8" fill="#a3a5a2"/>
<rect x="305.4" y="908.6" width="2.6" height="0.9" fill="#3b3f42" opacity="0.75"/>
<rect x="312.0" y="908.4" width="5.5" height="2.7" rx="0.8" fill="#f6f6f4"/>
<rect x="313.3" y="908.6" width="2.6" height="0.9" fill="#3b3f42" opacity="0.75"/>
<rect x="318.5" y="908.4" width="5.5" height="2.7" rx="0.8" fill="#8c3a35"/>
<rect x="319.8" y="908.6" width="2.6" height="0.9" fill="#3b3f42" opacity="0.75"/>
<rect x="325.7" y="908.4" width="5.5" height="2.7" rx="0.8" fill="#b9bab6"/>
<rect x="326.9" y="908.6" width="2.6" height="0.9" fill="#3b3f42" opacity="0.75"/>
<rect x="333.2" y="908.4" width="5.5" height="2.7" rx="0.8" fill="#e6e6e3"/>
<rect x="334.5" y="908.6" width="2.6" height="0.9" fill="#3b3f42" opacity="0.75"/>
<rect x="339.7" y="908.4" width="5.5" height="2.7" rx="0.8" fill="#dededb"/>
<rect x="340.9" y="908.6" width="2.6" height="0.9" fill="#3b3f42" opacity="0.75"/>
<rect x="347.4" y="908.4" width="5.5" height="2.7" rx="0.8" fill="#dededb"/>
<rect x="348.6" y="908.6" width="2.6" height="0.9" fill="#3b3f42" opacity="0.75"/>
<rect x="354.8" y="908.4" width="5.5" height="2.7" rx="0.8" fill="#e6e6e3"/>
<rect x="356.1" y="908.6" width="2.6" height="0.9" fill="#3b3f42" opacity="0.75"/>
<rect x="361.2" y="908.4" width="5.5" height="2.7" rx="0.8" fill="#5e5f5c"/>
<rect x="362.5" y="908.6" width="2.6" height="0.9" fill="#3b3f42" opacity="0.75"/>
<rect x="368.7" y="908.4" width="5.5" height="2.7" rx="0.8" fill="#e6e6e3"/>
<rect x="370.0" y="908.6" width="2.6" height="0.9" fill="#3b3f42" opacity="0.75"/>
<rect x="375.8" y="908.4" width="5.5" height="2.7" rx="0.8" fill="#4c4d4b"/>
<rect x="377.1" y="908.6" width="2.6" height="0.9" fill="#3b3f42" opacity="0.75"/>
<rect x="382.2" y="908.4" width="5.5" height="2.7" rx="0.8" fill="#e6e6e3"/>
<rect x="383.5" y="908.6" width="2.6" height="0.9" fill="#3b3f42" opacity="0.75"/>
<rect x="389.8" y="908.4" width="5.5" height="2.7" rx="0.8" fill="#dededb"/>
<rect x="391.1" y="908.6" width="2.6" height="0.9" fill="#3b3f42" opacity="0.75"/>
<rect x="397.6" y="908.4" width="5.5" height="2.7" rx="0.8" fill="#f6f6f4"/>
<rect x="398.9" y="908.6" width="2.6" height="0.9" fill="#3b3f42" opacity="0.75"/>
<rect x="405.4" y="908.4" width="5.5" height="2.7" rx="0.8" fill="#a3a5a2"/>
<rect x="406.7" y="908.6" width="2.6" height="0.9" fill="#3b3f42" opacity="0.75"/>
<rect x="413.1" y="908.4" width="5.5" height="2.7" rx="0.8" fill="#4c4d4b"/>
<rect x="414.4" y="908.6" width="2.6" height="0.9" fill="#3b3f42" opacity="0.75"/>
<rect x="420.4" y="908.4" width="5.5" height="2.7" rx="0.8" fill="#f1f1ef"/>
<rect x="421.7" y="908.6" width="2.6" height="0.9" fill="#3b3f42" opacity="0.75"/>
<rect x="428.2" y="908.4" width="5.5" height="2.7" rx="0.8" fill="#b9bab6"/>
<rect x="429.5" y="908.6" width="2.6" height="0.9" fill="#3b3f42" opacity="0.75"/>
<rect x="246.6" y="912.4" width="6.4" height="3.1" rx="0.9" fill="#f1f1ef"/>
<rect x="248.1" y="912.6" width="3.0" height="1.0" fill="#3b3f42" opacity="0.75"/>
<rect x="255.0" y="912.4" width="6.4" height="3.1" rx="0.9" fill="#dededb"/>
<rect x="256.5" y="912.6" width="3.0" height="1.0" fill="#3b3f42" opacity="0.75"/>
<rect x="263.9" y="912.4" width="6.4" height="3.1" rx="0.9" fill="#f1f1ef"/>
<rect x="265.4" y="912.6" width="3.0" height="1.0" fill="#3b3f42" opacity="0.75"/>
<rect x="271.7" y="912.4" width="6.4" height="3.1" rx="0.9" fill="#f1f1ef"/>
<rect x="273.2" y="912.6" width="3.0" height="1.0" fill="#3b3f42" opacity="0.75"/>
<rect x="280.1" y="912.4" width="6.4" height="3.1" rx="0.9" fill="#f1f1ef"/>
<rect x="281.6" y="912.6" width="3.0" height="1.0" fill="#3b3f42" opacity="0.75"/>
<rect x="288.3" y="912.4" width="6.4" height="3.1" rx="0.9" fill="#e6e6e3"/>
<rect x="289.8" y="912.6" width="3.0" height="1.0" fill="#3b3f42" opacity="0.75"/>
<rect x="297.0" y="912.4" width="6.4" height="3.1" rx="0.9" fill="#dededb"/>
<rect x="298.5" y="912.6" width="3.0" height="1.0" fill="#3b3f42" opacity="0.75"/>
<rect x="305.3" y="912.4" width="6.4" height="3.1" rx="0.9" fill="#f6f6f4"/>
<rect x="306.8" y="912.6" width="3.0" height="1.0" fill="#3b3f42" opacity="0.75"/>
<rect x="314.4" y="912.4" width="6.4" height="3.1" rx="0.9" fill="#4c4d4b"/>
<rect x="315.9" y="912.6" width="3.0" height="1.0" fill="#3b3f42" opacity="0.75"/>
<rect x="323.4" y="912.4" width="6.4" height="3.1" rx="0.9" fill="#f1f1ef"/>
<rect x="324.9" y="912.6" width="3.0" height="1.0" fill="#3b3f42" opacity="0.75"/>
<rect x="331.5" y="912.4" width="6.4" height="3.1" rx="0.9" fill="#e6e6e3"/>
<rect x="333.0" y="912.6" width="3.0" height="1.0" fill="#3b3f42" opacity="0.75"/>
<rect x="339.7" y="912.4" width="6.4" height="3.1" rx="0.9" fill="#f6f6f4"/>
<rect x="341.2" y="912.6" width="3.0" height="1.0" fill="#3b3f42" opacity="0.75"/>
<rect x="348.5" y="912.4" width="6.4" height="3.1" rx="0.9" fill="#4c4d4b"/>
<rect x="350.0" y="912.6" width="3.0" height="1.0" fill="#3b3f42" opacity="0.75"/>
<rect x="357.7" y="912.4" width="6.4" height="3.1" rx="0.9" fill="#a3a5a2"/>
<rect x="359.2" y="912.6" width="3.0" height="1.0" fill="#3b3f42" opacity="0.75"/>
<rect x="365.4" y="912.4" width="6.4" height="3.1" rx="0.9" fill="#3a3b3a"/>
<rect x="366.8" y="912.6" width="3.0" height="1.0" fill="#3b3f42" opacity="0.75"/>
<rect x="373.2" y="912.4" width="6.4" height="3.1" rx="0.9" fill="#8c3a35"/>
<rect x="374.6" y="912.6" width="3.0" height="1.0" fill="#3b3f42" opacity="0.75"/>
<rect x="382.2" y="912.4" width="6.4" height="3.1" rx="0.9" fill="#e6e6e3"/>
<rect x="383.7" y="912.6" width="3.0" height="1.0" fill="#3b3f42" opacity="0.75"/>
<rect x="389.9" y="912.4" width="6.4" height="3.1" rx="0.9" fill="#dededb"/>
<rect x="391.4" y="912.6" width="3.0" height="1.0" fill="#3b3f42" opacity="0.75"/>
<rect x="397.9" y="912.4" width="6.4" height="3.1" rx="0.9" fill="#f6f6f4"/>
<rect x="399.4" y="912.6" width="3.0" height="1.0" fill="#3b3f42" opacity="0.75"/>
<rect x="405.5" y="912.4" width="6.4" height="3.1" rx="0.9" fill="#f6f6f4"/>
<rect x="407.0" y="912.6" width="3.0" height="1.0" fill="#3b3f42" opacity="0.75"/>
<rect x="413.9" y="912.4" width="6.4" height="3.1" rx="0.9" fill="#f1f1ef"/>
<rect x="415.4" y="912.6" width="3.0" height="1.0" fill="#3b3f42" opacity="0.75"/>
<rect x="422.0" y="912.4" width="6.4" height="3.1" rx="0.9" fill="#f6f6f4"/>
<rect x="423.5" y="912.6" width="3.0" height="1.0" fill="#3b3f42" opacity="0.75"/>
<rect x="246.3" y="917.0" width="7.7" height="3.8" rx="1.1" fill="#7d2f2c"/>
<rect x="248.1" y="917.3" width="3.6" height="1.3" fill="#3b3f42" opacity="0.75"/>
<rect x="257.4" y="917.0" width="7.7" height="3.8" rx="1.1" fill="#f6f6f4"/>
<rect x="259.2" y="917.3" width="3.6" height="1.3" fill="#3b3f42" opacity="0.75"/>
<rect x="267.1" y="917.0" width="7.7" height="3.8" rx="1.1" fill="#7d2f2c"/>
<rect x="268.9" y="917.3" width="3.6" height="1.3" fill="#3b3f42" opacity="0.75"/>
<rect x="276.7" y="917.0" width="7.7" height="3.8" rx="1.1" fill="#dededb"/>
<rect x="278.5" y="917.3" width="3.6" height="1.3" fill="#3b3f42" opacity="0.75"/>
<rect x="287.6" y="917.0" width="7.7" height="3.8" rx="1.1" fill="#a3a5a2"/>
<rect x="289.4" y="917.3" width="3.6" height="1.3" fill="#3b3f42" opacity="0.75"/>
<rect x="297.5" y="917.0" width="7.7" height="3.8" rx="1.1" fill="#dededb"/>
<rect x="299.3" y="917.3" width="3.6" height="1.3" fill="#3b3f42" opacity="0.75"/>
<rect x="308.1" y="917.0" width="7.7" height="3.8" rx="1.1" fill="#f1f1ef"/>
<rect x="309.9" y="917.3" width="3.6" height="1.3" fill="#3b3f42" opacity="0.75"/>
<rect x="318.9" y="917.0" width="7.7" height="3.8" rx="1.1" fill="#f1f1ef"/>
<rect x="320.7" y="917.3" width="3.6" height="1.3" fill="#3b3f42" opacity="0.75"/>
<rect x="328.5" y="917.0" width="7.7" height="3.8" rx="1.1" fill="#f1f1ef"/>
<rect x="330.3" y="917.3" width="3.6" height="1.3" fill="#3b3f42" opacity="0.75"/>
<rect x="339.3" y="917.0" width="7.7" height="3.8" rx="1.1" fill="#e6e6e3"/>
<rect x="341.1" y="917.3" width="3.6" height="1.3" fill="#3b3f42" opacity="0.75"/>
<rect x="348.4" y="917.0" width="7.7" height="3.8" rx="1.1" fill="#3a3b3a"/>
<rect x="350.2" y="917.3" width="3.6" height="1.3" fill="#3b3f42" opacity="0.75"/>
<rect x="357.4" y="917.0" width="7.7" height="3.8" rx="1.1" fill="#8c3a35"/>
<rect x="359.2" y="917.3" width="3.6" height="1.3" fill="#3b3f42" opacity="0.75"/>
<rect x="368.5" y="917.0" width="7.7" height="3.8" rx="1.1" fill="#e6e6e3"/>
<rect x="370.3" y="917.3" width="3.6" height="1.3" fill="#3b3f42" opacity="0.75"/>
<rect x="377.6" y="917.0" width="7.7" height="3.8" rx="1.1" fill="#b9bab6"/>
<rect x="379.4" y="917.3" width="3.6" height="1.3" fill="#3b3f42" opacity="0.75"/>
<rect x="388.8" y="917.0" width="7.7" height="3.8" rx="1.1" fill="#e6e6e3"/>
<rect x="390.6" y="917.3" width="3.6" height="1.3" fill="#3b3f42" opacity="0.75"/>
<rect x="398.3" y="917.0" width="7.7" height="3.8" rx="1.1" fill="#f6f6f4"/>
<rect x="400.1" y="917.3" width="3.6" height="1.3" fill="#3b3f42" opacity="0.75"/>
<rect x="408.5" y="917.0" width="7.7" height="3.8" rx="1.1" fill="#dededb"/>
<rect x="410.3" y="917.3" width="3.6" height="1.3" fill="#3b3f42" opacity="0.75"/>
<rect x="418.6" y="917.0" width="7.7" height="3.8" rx="1.1" fill="#f6f6f4"/>
<rect x="420.4" y="917.3" width="3.6" height="1.3" fill="#3b3f42" opacity="0.75"/>
<rect x="429.4" y="917.0" width="7.7" height="3.8" rx="1.1" fill="#7d2f2c"/>
<rect x="431.2" y="917.3" width="3.6" height="1.3" fill="#3b3f42" opacity="0.75"/>
<rect x="248.9" y="922.6" width="9.9" height="4.8" rx="1.4" fill="#e6e6e3"/>
<rect x="251.2" y="923.0" width="4.6" height="1.6" fill="#3b3f42" opacity="0.75"/>
<rect x="261.9" y="922.6" width="9.9" height="4.8" rx="1.4" fill="#dededb"/>
<rect x="264.2" y="923.0" width="4.6" height="1.6" fill="#3b3f42" opacity="0.75"/>
<rect x="273.7" y="922.6" width="9.9" height="4.8" rx="1.4" fill="#3a3b3a"/>
<rect x="276.0" y="923.0" width="4.6" height="1.6" fill="#3b3f42" opacity="0.75"/>
<rect x="287.1" y="922.6" width="9.9" height="4.8" rx="1.4" fill="#dededb"/>
<rect x="289.4" y="923.0" width="4.6" height="1.6" fill="#3b3f42" opacity="0.75"/>
<rect x="301.4" y="922.6" width="9.9" height="4.8" rx="1.4" fill="#e6e6e3"/>
<rect x="303.7" y="923.0" width="4.6" height="1.6" fill="#3b3f42" opacity="0.75"/>
<rect x="315.7" y="922.6" width="9.9" height="4.8" rx="1.4" fill="#e6e6e3"/>
<rect x="318.0" y="923.0" width="4.6" height="1.6" fill="#3b3f42" opacity="0.75"/>
<rect x="328.4" y="922.6" width="9.9" height="4.8" rx="1.4" fill="#f1f1ef"/>
<rect x="330.7" y="923.0" width="4.6" height="1.6" fill="#3b3f42" opacity="0.75"/>
<rect x="342.3" y="922.6" width="9.9" height="4.8" rx="1.4" fill="#f6f6f4"/>
<rect x="344.6" y="923.0" width="4.6" height="1.6" fill="#3b3f42" opacity="0.75"/>
<rect x="355.0" y="922.6" width="9.9" height="4.8" rx="1.4" fill="#dededb"/>
<rect x="357.3" y="923.0" width="4.6" height="1.6" fill="#3b3f42" opacity="0.75"/>
<rect x="369.0" y="922.6" width="9.9" height="4.8" rx="1.4" fill="#a3a5a2"/>
<rect x="371.3" y="923.0" width="4.6" height="1.6" fill="#3b3f42" opacity="0.75"/>
<rect x="382.3" y="922.6" width="9.9" height="4.8" rx="1.4" fill="#b9bab6"/>
<rect x="384.6" y="923.0" width="4.6" height="1.6" fill="#3b3f42" opacity="0.75"/>
<rect x="395.1" y="922.6" width="9.9" height="4.8" rx="1.4" fill="#dededb"/>
<rect x="397.4" y="923.0" width="4.6" height="1.6" fill="#3b3f42" opacity="0.75"/>
<rect x="406.6" y="922.6" width="9.9" height="4.8" rx="1.4" fill="#f6f6f4"/>
<rect x="408.9" y="923.0" width="4.6" height="1.6" fill="#3b3f42" opacity="0.75"/>
<rect x="420.9" y="922.6" width="9.9" height="4.8" rx="1.4" fill="#e6e6e3"/>
<rect x="423.2" y="923.0" width="4.6" height="1.6" fill="#3b3f42" opacity="0.75"/>
<rect x="249.5" y="928.6" width="12.9" height="6.0" rx="1.8" fill="#e6e6e3"/>
<rect x="252.5" y="929.1" width="6.0" height="2.0" fill="#3b3f42" opacity="0.75"/>
<rect x="264.5" y="928.6" width="12.9" height="6.0" rx="1.8" fill="#dededb"/>
<rect x="267.5" y="929.1" width="6.0" height="2.0" fill="#3b3f42" opacity="0.75"/>
<rect x="280.6" y="928.6" width="12.9" height="6.0" rx="1.8" fill="#b9bab6"/>
<rect x="283.6" y="929.1" width="6.0" height="2.0" fill="#3b3f42" opacity="0.75"/>
<rect x="297.5" y="928.6" width="12.9" height="6.0" rx="1.8" fill="#f6f6f4"/>
<rect x="300.5" y="929.1" width="6.0" height="2.0" fill="#3b3f42" opacity="0.75"/>
<rect x="315.5" y="928.6" width="12.9" height="6.0" rx="1.8" fill="#f1f1ef"/>
<rect x="318.5" y="929.1" width="6.0" height="2.0" fill="#3b3f42" opacity="0.75"/>
<rect x="332.0" y="928.6" width="12.9" height="6.0" rx="1.8" fill="#e6e6e3"/>
<rect x="335.0" y="929.1" width="6.0" height="2.0" fill="#3b3f42" opacity="0.75"/>
<rect x="347.3" y="928.6" width="12.9" height="6.0" rx="1.8" fill="#7d2f2c"/>
<rect x="350.3" y="929.1" width="6.0" height="2.0" fill="#3b3f42" opacity="0.75"/>
<rect x="364.8" y="928.6" width="12.9" height="6.0" rx="1.8" fill="#a3a5a2"/>
<rect x="367.8" y="929.1" width="6.0" height="2.0" fill="#3b3f42" opacity="0.75"/>
<rect x="382.7" y="928.6" width="12.9" height="6.0" rx="1.8" fill="#a3a5a2"/>
<rect x="385.7" y="929.1" width="6.0" height="2.0" fill="#3b3f42" opacity="0.75"/>
<rect x="398.2" y="928.6" width="12.9" height="6.0" rx="1.8" fill="#b9bab6"/>
<rect x="401.2" y="929.1" width="6.0" height="2.0" fill="#3b3f42" opacity="0.75"/>
<rect x="413.4" y="928.6" width="12.9" height="6.0" rx="1.8" fill="#5e5f5c"/>
<rect x="416.4" y="929.1" width="6.0" height="2.0" fill="#3b3f42" opacity="0.75"/>
</g>
<rect x="343" y="920.5" width="22" height="6" rx="2" fill="#6e2a28" filter="url(#bl2)"/>
<path d="M272.3 925 L272.3 870 Q271.8 866.5 268 867.5" fill="none" stroke="#5c5f60" stroke-width="0.9"/>
<path d="M369 932 L371 920 Q379 916 388 919 L389 932 Z" fill="#2f4a3a"/>
<rect x="387" y="916" width="37" height="16" fill="#eeeeec"/>
<rect x="392" y="922" width="1.6" height="10" fill="#9a9c9c"/>
<rect x="398" y="922" width="1.6" height="10" fill="#9a9c9c"/>
<rect x="404" y="922" width="1.6" height="10" fill="#9a9c9c"/>
<rect x="410" y="922" width="1.6" height="10" fill="#9a9c9c"/>
<rect x="416" y="922" width="1.6" height="10" fill="#9a9c9c"/>
<rect x="240" y="930.3" width="190" height="2" fill="#5a5c50" opacity="0.55"/>
</g>
<g clip-path="url(#p2)">
<rect x="400" y="858.5" width="190" height="40" fill="#c6c8cc"/>
<rect x="400" y="858.5" width="190" height="7" fill="#bbbec4"/>
<rect x="400" y="895" width="190" height="37" fill="url(#tar)"/>
<path d="M400 921 L590 917 L590 932 L400 932 Z" fill="#a3a3a5" opacity="0.75"/>
<path d="M405 884 Q414 877.5 452 877 L452 888.5 L410 890.5 Z" fill="#e6eaef"/>
<text x="418" y="885.2" font-family="Liberation Sans, sans-serif" font-weight="bold" font-size="5.5" fill="#4f6fa8" textLength="22" lengthAdjust="spacingAndGlyphs">TAP</text>
<path d="M405 889 L452 887.5 L452 893 L408 895 Z" fill="#8e959d"/>
<path d="M424 890.5 L445 889.5 L446 902 L427 903 Z" fill="#2b4d92"/>
<path d="M411 903 L450 901 L452 915 L416 916.5 Z" fill="#64788f"/>
<rect x="412" y="893" width="13" height="10" fill="#4c5560"/>
<rect x="430" y="906" width="20" height="4" fill="#d8dde2" opacity="0.8"/>
<path d="M459 872 Q470 864.5 500 863.5 L590 860 L590 888 L466 890.5 Q459 884 459 872 Z" fill="#e4e6e8"/>
<path d="M464 887 L590 882.5 L590 897.5 L470 899 Q465 894 464 887 Z" fill="#87898c"/>
<rect x="470" y="896.5" width="120" height="3.5" fill="#babcbc" opacity="0.7"/>
<rect x="500" y="860" width="22.5" height="23" fill="#6d6f70"/>
<rect x="503.5" y="864" width="16" height="19" fill="#55585a"/>
<path d="M522 858.5 L552 858.5 L548 865 L531 866.5 Z" fill="#86b4cb"/>
<text x="522" y="879.6" font-family="Liberation Sans, sans-serif" font-weight="bold" font-size="13.6" fill="#c8313e" textLength="41" lengthAdjust="spacingAndGlyphs">Florida</text>
<rect x="472" y="872" width="6.5" height="15" fill="#4a6286"/>
<ellipse cx="481" cy="917" rx="30" ry="3" fill="#4d4d50" opacity="0.75"/>
<rect x="450" y="867" width="9.6" height="45.5" fill="#a3472a"/>
<rect x="453.4" y="868.5" width="2.4" height="43" fill="#6b2a1a"/>
<path d="M462.5 886 L484.5 885 L485.5 897 L501 898 L501.5 911 L462.5 913 Z" fill="#c9502b"/>
<path d="M465.2 888 L473 887.7 L473 898.5 L465.2 898.8 Z M475.3 887.6 L482.6 887.3 L483.2 898 L475.3 898.4 Z" fill="#6a5a52"/>
<rect x="462.5" y="899" width="39" height="2" fill="#a13f22" opacity="0.6"/>
<circle cx="468.3" cy="911.6" r="6" fill="#2a2726"/><circle cx="468.3" cy="911.6" r="2.4" fill="#8a4028"/>
<circle cx="495.8" cy="911.4" r="5.5" fill="#2a2726"/><circle cx="495.8" cy="911.4" r="2.2" fill="#8a4028"/>
<path d="M531 890.5 L565 888 L569.5 915.5 L566 915.5 L562.6 891.7 L534.6 893.6 L533 916 L529.5 916 Z" fill="#1d1d1c"/>
<rect x="557" y="889" width="4" height="40" fill="#242422"/>
<path d="M541 898 L552 897 L555 912 L541 913 Z" fill="#45484a"/>
<circle cx="546.5" cy="899.5" r="2.3" fill="#3a2c24"/>
<path d="M521.4 915.5 Q522 911.5 528 911.5 L550 910.5 L554 917.5 L564 918.5 L565 931.7 L521.4 931.7 Z" fill="#d9ba30"/>
<rect x="523" y="914" width="7.5" height="3.6" fill="#2a2a28"/>
<path d="M521.4 924 L543 923.5 L543 931.7 L521.4 931.7 Z" fill="#262624"/>
<rect x="543" y="926" width="19" height="5.7" fill="#cfae2a"/>
<rect x="533" y="917" width="18" height="1.2" fill="#8a7520"/>
<path d="M566.5 907 Q570.5 902 575 907 L577.5 926 L567 926 Z" fill="#4a4640"/><path d="M569 907 L573 907 L574 920 L569.5 920 Z" fill="#e6e3dc"/><circle cx="570.8" cy="902.5" r="2.6" fill="#6b4a3a"/><rect x="568" y="924" width="9" height="8" fill="#2a2a2c"/>
</g>
<g clip-path="url(#p3)">
<rect x="560" y="858.5" width="160" height="73.5" fill="#d7cdaa"/>
<path d="M560 858.5 L578 858.5 L577 882 L560 884 Z" fill="#e2e2e0"/>
<path d="M576 858.5 L720 858.5 L720 860 L577 866 Z" fill="#e6e0c8"/>
<path d="M578.0 865.5 L611.5 862.2 L611.5 874.6 L578.0 877.0 Z" fill="#4a4c4a"/>
<path d="M615.5 861.6 L656.7 858.5 L656.7 870.6 L615.5 874.2 Z" fill="#4a4c4a"/>
<path d="M661.0 858.5 L698.0 858.5 L698.0 866.4 L661.0 870.2 Z" fill="#4a4c4a"/>
<path d="M703.0 858.5 L720.0 858.5 L720.0 864.2 L703.0 866.0 Z" fill="#4a4c4a"/>
<rect x="586.0" y="858.5" width="1.1" height="20" fill="#cfc6a6" opacity="0.85"/>
<rect x="594.5" y="858.5" width="1.1" height="20" fill="#cfc6a6" opacity="0.85"/>
<rect x="603.0" y="858.5" width="1.1" height="20" fill="#cfc6a6" opacity="0.85"/>
<rect x="625.5" y="858.5" width="1.1" height="20" fill="#cfc6a6" opacity="0.85"/>
<rect x="636.0" y="858.5" width="1.1" height="20" fill="#cfc6a6" opacity="0.85"/>
<rect x="646.5" y="858.5" width="1.1" height="20" fill="#cfc6a6" opacity="0.85"/>
<rect x="670.0" y="858.5" width="1.1" height="20" fill="#cfc6a6" opacity="0.85"/>
<rect x="679.5" y="858.5" width="1.1" height="20" fill="#cfc6a6" opacity="0.85"/>
<rect x="689.0" y="858.5" width="1.1" height="20" fill="#cfc6a6" opacity="0.85"/>
<rect x="711.0" y="858.5" width="1.1" height="20" fill="#cfc6a6" opacity="0.85"/>
<path d="M578.0 870.8 L720.0 857.0 L720.0 858.0 L578.0 871.8 Z" fill="#bdb698"/>
<path d="M572.0 878.5 L720.0 864.5 L720.0 867.5 L572.0 884.5 Z" fill="#ddd4b4"/>
<path d="M572.0 883.8 L720.0 866.2 L720.0 890.3 L572.0 898.2 Z" fill="#f4f4f1"/>
<path d="M573.0 898.2 L720.0 890.3 L720.0 892.4 L573.0 900.2 Z" fill="#a9a594"/>
<text transform="translate(579,895.4) rotate(-3.2)" font-family="Liberation Serif, serif" font-weight="bold" font-size="9.6" fill="#1c2140" textLength="22.5" lengthAdjust="spacingAndGlyphs">A S.A.</text>
<text transform="translate(608,892.3) rotate(-3.2)" font-family="Liberation Serif, serif" font-style="italic" font-weight="bold" font-size="4.2" fill="#34384e" textLength="43" lengthAdjust="spacingAndGlyphs">Almacenando su Confianza</text>
<path d="M666.6 873 L671 872.6 Q675.4 878.5 676.2 891 L671.2 891.4 Q670.8 879 666.6 873 Z" fill="url(#rb)" stroke="#111" stroke-width="0.5"/>
<path d="M659.8 892.2 Q660.6 876.5 666.6 873 L668.4 875.8 Q666 881.5 665.3 891.9 Z" fill="#111"/>
<text transform="translate(677,889.6) rotate(-3.6)" font-family="Liberation Sans, sans-serif" font-weight="bold" font-size="21.5" fill="#1b2757" textLength="46.5" lengthAdjust="spacingAndGlyphs">LBO</text>
<path d="M573.0 900.2 L720.0 892.4 L720.0 932.0 L573.0 932.0 Z" fill="#4e4030"/>
<path d="M590 900.5 L664 896.5 Q672 909 671 921 Q655 925 644 921 Q632 904 597 906 Z" fill="#deb066"/>
<path d="M597 906 Q632 904 644 921 Q636 923 630 921 Q622 910 600 910.5 Z" fill="#b98a44"/>
<path d="M640 897.8 L664 896.5 Q672 909 671 921 Q664 923 660 922 Q660 908 640 897.8 Z" fill="#c99a50" opacity="0.8"/>
<path d="M659 896.7 L720 893 L720 930 L700 930 L689 929 L684 921 L673 922 Q671 906 659 896.7 Z" fill="#1f4580"/>
<path d="M700 893.8 L720 893 L720 905 Z" fill="#17335f"/>
<rect x="689" y="908" width="26.5" height="20" fill="#c8b080"/><rect x="693" y="902.7" width="11" height="5.5" fill="#d2bd8e"/><rect x="690.5" y="911" width="6" height="4" fill="#5a4c38"/><rect x="689" y="917.5" width="26.5" height="0.8" fill="#9c875c"/>
<rect x="591" y="911.5" width="13" height="11.5" fill="#c9b488"/><rect x="609" y="915" width="15.5" height="11" fill="#d9c9a0"/><rect x="626" y="919" width="18" height="8" fill="#9a8258"/>
<rect x="586" y="926.3" width="104" height="5.7" fill="#cdbd96"/>
<rect x="600" y="926.3" width="1" height="5.7" fill="#8d7a55"/>
<rect x="618" y="926.3" width="1" height="5.7" fill="#8d7a55"/>
<rect x="640" y="926.3" width="1" height="5.7" fill="#8d7a55"/>
<rect x="662" y="926.3" width="1" height="5.7" fill="#8d7a55"/>
<rect x="690" y="928" width="30" height="4" fill="#6f6a5a"/>
</g>
<polygon points="399,858.5 405.2,858.5 430.5,932 422.6,932" fill="#fff"/>
<polygon points="558.6,858.5 565,858.5 590,932 582,932" fill="#fff"/>
<path d="M54.4 866.7 L65.3 866 C70.5 873 73.2 885 73.9 900.3 L61.8 900.3 C61.3 887 59 875 54.4 866.7 Z" fill="url(#rb)" stroke="#111" stroke-width="0.9" stroke-linejoin="round"/>
<path d="M38.6 899.9 C40 884 44.5 869.5 54.4 866.5 L58 872 C55 878 52.6 888 51.8 899.9 Z" fill="#0b0b0b"/>
<rect x="52.5" y="887.3" width="8.5" height="1.4" fill="#111"/>
<text x="77.8" y="899.6" font-family="DejaVu Sans, Liberation Sans, sans-serif" font-weight="bold" font-size="25" fill="#0d0d0d" textLength="115.5" lengthAdjust="spacingAndGlyphs">LBO S.A.</text>
<text x="37.3" y="911.8" font-family="Liberation Sans, sans-serif" font-size="13.6" fill="#2a2a2a" textLength="156" lengthAdjust="spacingAndGlyphs">Almacenera Boliviana S.A.</text>
<text x="110.8" y="921.4" font-family="Liberation Serif, serif" font-weight="bold" font-style="italic" font-size="7.8" fill="#2a2a2a" textLength="114" lengthAdjust="spacingAndGlyphs">"Almacenando su confianza"</text>
</svg>
<div id="ftr"></div>
<div class="ctr" style="top:934.5px;font-size:9.82px;line-height:14px;color:#fff"><span style="position:relative;left:2px"><span style="font-size:10.9px">Derechos Reservados © Instituto Boliviano de Comercio</span> Exterior (IBCE). Se podrá reproducir el contenido de esta publicación citando la fuente.</span></div>
<div class="ctr" style="top:947.5px;font-size:9.64px;line-height:13px;color:#fff"><span style="position:relative;left:1px">El IBCE no se hace responsable de la información que este Boletín contenga, siendo que se especifican las fuentes de donde se obtiene la misma.</span></div>
</body></html>
